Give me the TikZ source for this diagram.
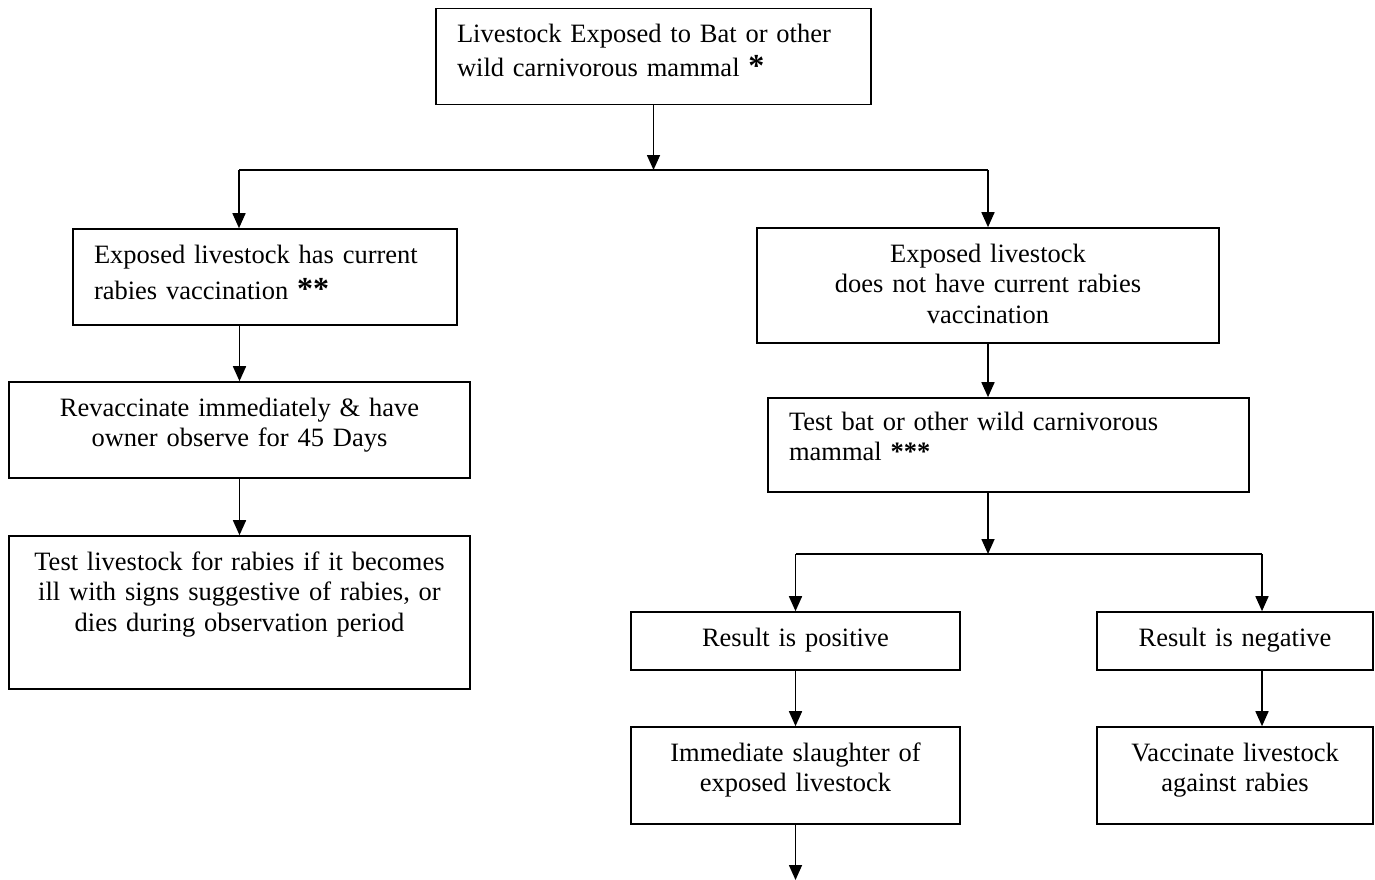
\documentclass[tikz,border=0pt]{standalone}
\usepackage{fontspec}
\setmainfont{Liberation Serif}
\usetikzlibrary{arrows.meta, positioning}

\newcommand{\boldstars}[1]{{\fontsize{32}{30.5}\selectfont\bfseries #1}}

\tikzset{
  flowbox/.style={draw, line width=1.6pt, inner xsep=21pt, inner ysep=0pt, text height=34pt},
  leftbox/.style={flowbox, align=left},
  midbox/.style={flowbox, align=center},
  flowline/.style={line width=1.6pt},
  flowarrow/.style={line width=1.6pt, -{Triangle[length=15pt, width=13pt]}}
}

\begin{document}
\begin{tikzpicture}[x=1pt, y=-1pt, font=\fontsize{26.5}{30.5}\selectfont]
\useasboundingbox (0,0) rectangle (1375,880);

% Exposure
\node[leftbox, text width=393pt, text depth=62pt] (expo) at (653.5,56.5)
  {Livestock Exposed to Bat or other\\[4pt]wild carnivorous mammal \boldstars{*}};

% Vaccinated branch
\node[leftbox, text width=342pt, text depth=62pt] (vaccur) at (265,277)
  {Exposed livestock has current\\[6pt]rabies vaccination \boldstars{**}};
\node[midbox, text width=419pt, text depth=62pt] (revac) at (239.5,430)
  {Revaccinate immediately \& have\\owner observe for 45 Days};
\node[midbox, text width=419pt, text depth=119pt] (testlive) at (239.5,612.5)
  {Test livestock for rabies if it becomes\\ill with signs suggestive of rabies, or\\dies during observation period};

% Unvaccinated branch
\node[midbox, text width=420pt, text depth=81pt] (novac) at (988,285.5)
  {Exposed livestock\\does not have current rabies\\vaccination};
\node[leftbox, text width=439pt, text depth=62pt, text height=32pt] (testbat) at (1008.5,445)
  {Test bat or other wild carnivorous\\mammal \textbf{***}};

% Test results
\node[midbox, text width=287pt, text depth=24pt] (positive) at (795.5,641) {Result is positive};
\node[midbox, text width=234pt, text depth=24pt] (negative) at (1235,641) {Result is negative};
\node[midbox, text width=287pt, text depth=63pt] (slaughter) at (795.5,775.5)
  {Immediate slaughter of\\exposed livestock};
\node[midbox, text width=234pt, text depth=63pt] (vaccinate) at (1235,775.5)
  {Vaccinate livestock\\against rabies};

% Branch points
\coordinate (splitL) at (239,170);
\coordinate (splitR) at (988,170);
\coordinate (merge) at (988,554);
\coordinate (splitP) at (795.5,554);
\coordinate (splitN) at (1262,554);
\coordinate (tail) at (795.5,880);

% Connectors
\draw[flowarrow] (expo.south) -- (expo.south |- splitL);
\draw[flowline] (splitL) -- (splitR);
\draw[flowarrow] (splitL) -- (splitL |- vaccur.north);
\draw[flowarrow] (splitR) -- (novac.north);
\draw[flowarrow] (vaccur.south -| revac) -- (revac.north);
\draw[flowarrow] (revac.south) -- (testlive.north);
\draw[flowarrow] (novac.south) -- (novac.south |- testbat.north);
\draw[flowarrow] (testbat.south -| merge) -- (merge);
\draw[flowline] (splitP) -- (splitN);
\draw[flowarrow] (splitP) -- (positive.north);
\draw[flowarrow] (splitN) -- (splitN |- negative.north);
\draw[flowarrow] (positive.south) -- (slaughter.north);
\draw[flowarrow] (negative.south -| splitN) -- (splitN |- vaccinate.north);
\draw[flowarrow] (slaughter.south) -- (tail);
\end{tikzpicture}
\end{document}
